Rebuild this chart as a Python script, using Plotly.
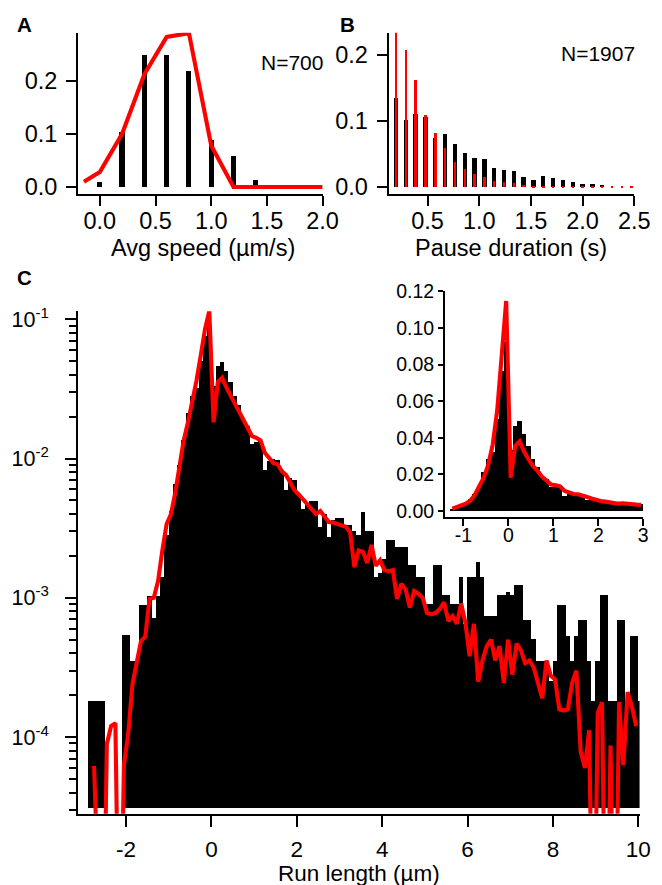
import numpy as np
import plotly.graph_objects as go

# Figure canvas; the capture maps figure px to picture px as ~0.977*x+5.8, ~0.986*y+16.1,
# so target (reference-picture) coordinates are converted back to figure coordinates.
FW, FH = 662, 885
SX, BX, SY, BY = 0.9768, 5.8, 0.986, 16.1
def px(x): return ((x - BX) / SX) / FW
def py(y): return 1 - ((y - BY) / SY) / FH
def fs(s): return round(s / SX, 1)

# ---------------- Panel A: average speed ----------------
speed_bins = [0.0, 0.2, 0.4, 0.6, 0.8, 1.0, 1.2, 1.4]
speed_hist = [0.010, 0.103, 0.248, 0.248, 0.219, 0.089, 0.059, 0.014]
speed_fit_x = [-0.143, 0.0, 0.2, 0.4, 0.6, 0.8, 1.0, 1.2, 1.4, 1.6, 1.8, 2.0]
speed_fit_y = [0.010, 0.028, 0.100, 0.212, 0.282, 0.289, 0.078, 0.0, 0.0, 0.0, 0.0, 0.0]

# ---------------- Panel B: pause duration ----------------
pause_bins = [0.19, 0.285, 0.38, 0.475, 0.57, 0.665, 0.76, 0.855, 0.95, 1.045,
              1.14, 1.235, 1.33, 1.425, 1.52, 1.615, 1.71, 1.805, 1.90, 1.995,
              2.09, 2.185, 2.28, 2.375, 2.47]
pause_data = [0.135, 0.1025, 0.111, 0.106, 0.075, 0.080, 0.065, 0.0525, 0.044, 0.043,
              0.0285, 0.0255, 0.024, 0.016, 0.0105, 0.0175, 0.0135, 0.0105, 0.008, 0.005,
              0.0045, 0.0035, 0.0, 0.0, 0.0]
pause_model = [0.235, 0.2075, 0.1625, 0.110, 0.0825, 0.059, 0.0375, 0.0275, 0.020, 0.0155,
               0.009, 0.0075, 0.0065, 0.004, 0.0025, 0.002, 0.002, 0.001, 0.0007, 0.0006,
               0.0005, 0.0005, 0.0005, 0.0005, 0.0005]

# ---------------- Panel C: run length ----------------
run_bin_start = -2.9   # left edge of first bin (um)
run_bin_width = 0.1
run_density = [
    1.8e-4, 1.8e-4, 1.8e-4, 1.8e-4, 0, 0, 0, 0, 5.4e-4, 5.4e-4,
    3.5e-4, 3.5e-4, 8.9e-4, 8.9e-4, 1.03e-3, 7.1e-4, 1.03e-3, 1.4e-3, 2.8e-3, 4.2e-3,
    6.5e-3, 9.0e-3, 1.36e-2, 2.1e-2, 2.8e-2, 3.2e-2, 5.0e-2, 7.6e-2, 9.2e-2, 3.3e-2,
    4.6e-2, 4.9e-2, 4.2e-2, 3.5e-2, 2.8e-2, 2.4e-2, 1.9e-2, 1.7e-2, 1.27e-2, 1.3e-2,
    1.32e-2, 8.2e-3, 9.5e-3, 9.8e-3, 9.7e-3, 8.2e-3, 5.9e-3, 7.2e-3, 7.0e-3, 5.5e-3,
    4.3e-3, 4.7e-3, 4.9e-3, 4.9e-3, 3.2e-3, 4.0e-3, 2.7e-3, 3.6e-3, 3.7e-3, 3.7e-3,
    3.3e-3, 3.3e-3, 3.0e-3, 2.8e-3, 4.1e-3, 3.0e-3, 3.0e-3, 1.4e-3, 1.5e-3, 1.9e-3,
    2.6e-3, 2.6e-3, 2.3e-3, 2.3e-3, 2.3e-3, 1.7e-3, 1.7e-3, 1.4e-3, 1.4e-3, 9.0e-4,
    9.0e-4, 1.7e-3, 1.7e-3, 1.05e-3, 1.05e-3, 9.0e-4, 9.0e-4, 1.4e-3, 6.4e-4, 1.4e-3,
    1.4e-3, 1.8e-3, 1.4e-3, 7.4e-4, 7.4e-4, 7.4e-4, 1.05e-3, 1.05e-3, 1.1e-3, 1.05e-3,
    1.23e-3, 1.23e-3, 6.9e-4, 6.9e-4, 5.0e-4, 3.5e-4, 3.5e-4, 3.5e-4, 2.5e-4, 3.5e-4,
    8.9e-4, 8.9e-4, 5.3e-4, 3.5e-4, 5.3e-4, 6.9e-4, 6.9e-4, 3.5e-4, 1.8e-4, 3.5e-4,
    1.05e-3, 1.05e-3, 1.8e-4, 1.8e-4, 6.9e-4, 6.9e-4, 1.8e-4, 5.3e-4, 5.3e-4, 1.8e-4,
]
model_x_start = -2.75
model_x_step = 0.1
run_model = [
    6.2e-5, 0, 0, 8.9e-5, 1.2e-4, 1.26e-4, 0, 6.3e-5, 1.05e-4, 2.4e-4,
    3.55e-4, 4.9e-4, 5.25e-4, 9.8e-4, 1.0e-3, 1.32e-3, 2.19e-3, 3.39e-3, 3.98e-3, 5.62e-3,
    8.71e-3, 1.35e-2, 1.82e-2, 2.51e-2, 3.63e-2, 5.5e-2, 8.51e-2, 0.1148, 1.82e-2, 3.55e-2,
    3.8e-2, 3.24e-2, 2.82e-2, 2.45e-2, 2.19e-2, 1.86e-2, 1.66e-2, 1.45e-2, 1.41e-2, 1.35e-2,
    1.10e-2, 1.0e-2, 9.3e-3, 9.1e-3, 8.1e-3, 7.6e-3, 6.8e-3, 5.9e-3, 5.5e-3, 5.1e-3,
    4.7e-3, 4.4e-3, 4.0e-3, 4.2e-3, 3.8e-3, 3.5e-3, 3.47e-3, 3.39e-3, 3.31e-3, 3.24e-3,
    2.95e-3, 1.66e-3, 2.19e-3, 2.14e-3, 1.78e-3, 2.4e-3, 1.7e-3, 1.86e-3, 1.58e-3, 1.55e-3,
    1.58e-3, 9.8e-4, 1.26e-3, 1.15e-3, 8.5e-4, 1.12e-3, 1.07e-3, 1.0e-3, 7.8e-4, 7.6e-4,
    7.8e-4, 8.3e-4, 9.3e-4, 6.8e-4, 7.4e-4, 6.5e-4, 9.1e-4, 6.6e-4, 3.8e-4, 6.5e-4,
    2.5e-4, 3.55e-4, 4.5e-4, 5.0e-4, 3.55e-4, 4.5e-4, 2.45e-4, 5.0e-4, 2.8e-4, 4.7e-4,
    4.2e-4, 3.4e-4, 3.55e-4, 3.16e-4, 2.45e-4, 1.9e-4, 3.55e-4, 2.75e-4, 2.6e-4, 1.58e-4,
    1.55e-4, 1.58e-4, 2.45e-4, 3.0e-4, 7.9e-5, 6.0e-5, 1.12e-4, 0, 1.5e-4, 1.78e-4,
    0, 8.7e-5, 0, 1.78e-4, 6.3e-5, 2.1e-4, 1.66e-4, 1.2e-4,
]

run_density = np.array(run_density, dtype=float)
run_model = np.array(run_model, dtype=float)
run_centers = np.round(run_bin_start + run_bin_width * (np.arange(len(run_density)) + 0.5), 3)
model_x = np.round(model_x_start + model_x_step * np.arange(len(run_model)), 3)

RED = "#ff0000"
FONT = "Liberation Sans, Arial, Helvetica, sans-serif"
LW = 4.1

fig = go.Figure()

# A
fig.add_trace(go.Bar(x=speed_bins, y=speed_hist, width=0.045, marker=dict(color="black", line_width=0),
                     xaxis="x", yaxis="y", showlegend=False))
fig.add_trace(go.Scatter(x=speed_fit_x, y=speed_fit_y, mode="lines", line=dict(color=RED, width=LW),
                         xaxis="x", yaxis="y", showlegend=False))
# B
fig.add_trace(go.Bar(x=pause_bins, y=pause_data, width=0.042, marker=dict(color="black", line_width=0),
                     xaxis="x2", yaxis="y2", showlegend=False))
fig.add_trace(go.Bar(x=pause_bins, y=pause_model, width=0.024, marker=dict(color=RED, line_width=0),
                     xaxis="x2", yaxis="y2", showlegend=False))

# C main (log)
bar_floor = 10 ** -4.514
fig.add_trace(go.Bar(x=run_centers, y=np.where(run_density > 0, run_density - bar_floor, 0.0),
                     base=bar_floor, width=run_bin_width,
                     marker=dict(color="black", line_width=0),
                     xaxis="x3", yaxis="y3", showlegend=False))
fig.add_trace(go.Scatter(x=model_x, y=np.where(run_model > 0, run_model, 1e-6), mode="lines",
                         line=dict(color=RED, width=LW), xaxis="x3", yaxis="y3", showlegend=False))

# C inset (linear)
sel_b = (run_centers > -1.3) & (run_centers < 3.0)
sel_m = (model_x > -1.3) & (model_x < 3.0)
fig.add_trace(go.Bar(x=run_centers[sel_b], y=run_density[sel_b], width=run_bin_width,
                     marker=dict(color="black", line_width=0),
                     xaxis="x4", yaxis="y4", showlegend=False))
fig.add_trace(go.Scatter(x=model_x[sel_m], y=run_model[sel_m], mode="lines",
                         line=dict(color=RED, width=LW), xaxis="x4", yaxis="y4", showlegend=False))

def ax(domain, rng, tickvals, ticktext, ticklen, size, anchor, **kw):
    d = dict(domain=domain, range=rng, tickmode="array", tickvals=tickvals, ticktext=ticktext,
             ticks="outside", ticklen=ticklen, tickwidth=2, tickcolor="black",
             showline=True, linewidth=2, linecolor="black", showgrid=False, zeroline=False,
             tickfont=dict(size=fs(size), color="black", family=FONT), anchor=anchor, fixedrange=True)
    d.update(kw)
    return d

minor_vals = [k * 10.0 ** e for e in range(-5, 0) for k in range(2, 10)]

fig.update_layout(
    width=FW, height=FH, margin=dict(l=0, r=0, t=0, b=0),
    paper_bgcolor="white", plot_bgcolor="rgba(0,0,0,0)",
    barmode="overlay", bargap=0,
    font=dict(family=FONT, color="black"),
    xaxis=ax([px(76), px(320.7)], [-0.195, 2.0], [0, 0.5, 1, 1.5, 2],
             ["0.0", "0.5", "1.0", "1.5", "2.0"], 10, 23, "y", ticklabelstandoff=-5),
    yaxis=ax([py(192), py(30)], [-0.0131, 0.2897], [0, 0.1, 0.2],
             ["0.0", "0.1", "0.2"], 10, 23, "x", ticklabelstandoff=4),
    xaxis2=ax([px(386.7), px(632.7)], [0.122, 2.5], [0.5, 1.0, 1.5, 2.0, 2.5],
              ["0.5", "1.0", "1.5", "2.0", "2.5"], 10, 23, "y2", ticklabelstandoff=-5),
    yaxis2=ax([py(192), py(30)], [-0.01055, 0.2336], [0, 0.1, 0.2],
              ["0.0", "0.1", "0.2"], 10, 23, "x2", ticklabelstandoff=4),
    xaxis3=ax([px(76), px(638)], [-3.123, 10.03], [-2, 0, 2, 4, 6, 8, 10],
              ["-2", "0", "2", "4", "6", "8", "10"], 11, 22, "y3", ticklabelstandoff=3),
    yaxis3=ax([py(815), py(310)], [-4.55, -0.943], [1e-4, 1e-3, 1e-2, 1e-1],
              ["10<sup>-4</sup>", "10<sup>-3</sup>", "10<sup>-2</sup>", "10<sup>-1</sup>"], 11, 21, "x3",
              type="log", ticklabelstandoff=12,
              minor=dict(tickmode="array", tickvals=minor_vals, ticks="outside", ticklen=7,
                         tickwidth=1.5, tickcolor="black", showgrid=False)),
    xaxis4=ax([px(443.3), px(641.7)], [-1.41, 3.0], [-1, 0, 1, 2, 3],
              ["-1", "0", "1", "2", "3"], 7, 19, "y4", ticklabelstandoff=-7),
    yaxis4=ax([py(516.7), py(290)], [-0.00327, 0.12], [0, 0.02, 0.04, 0.06, 0.08, 0.10, 0.12],
              ["0.00", "0.02", "0.04", "0.06", "0.08", "0.10", "0.12"], 5, 19, "x4"),
)

annos = [
    dict(text="<b>A</b>", x=px(22.8), y=py(22), size=20),
    dict(text="<b>B</b>", x=px(345.8), y=py(21.5), size=20),
    dict(text="<b>C</b>", x=px(22.5), y=py(275.5), size=20),
    dict(text="Avg speed (µm/s)", x=px(201), y=py(246.5), size=23),
    dict(text="Pause duration (s)", x=px(509.7), y=py(246.5), size=23),
    dict(text="Run length (µm)", x=px(357), y=py(875), size=22),
]
for a in annos:
    fig.add_annotation(text=a["text"], x=a["x"], y=a["y"], xref="paper", yref="paper",
                       xanchor="center", yanchor="middle", showarrow=False,
                       font=dict(size=fs(a["size"]), color="black", family=FONT))
fig.add_annotation(text="N=700", x=px(323), y=py(59.5), xref="paper", yref="paper",
                   xanchor="right", yanchor="middle", showarrow=False,
                   font=dict(size=fs(20.5), color="black", family=FONT))
fig.add_annotation(text="N=1907", x=px(635), y=py(51), xref="paper", yref="paper",
                   xanchor="right", yanchor="middle", showarrow=False,
                   font=dict(size=fs(20.5), color="black", family=FONT))

fig.write_html("out.html")
